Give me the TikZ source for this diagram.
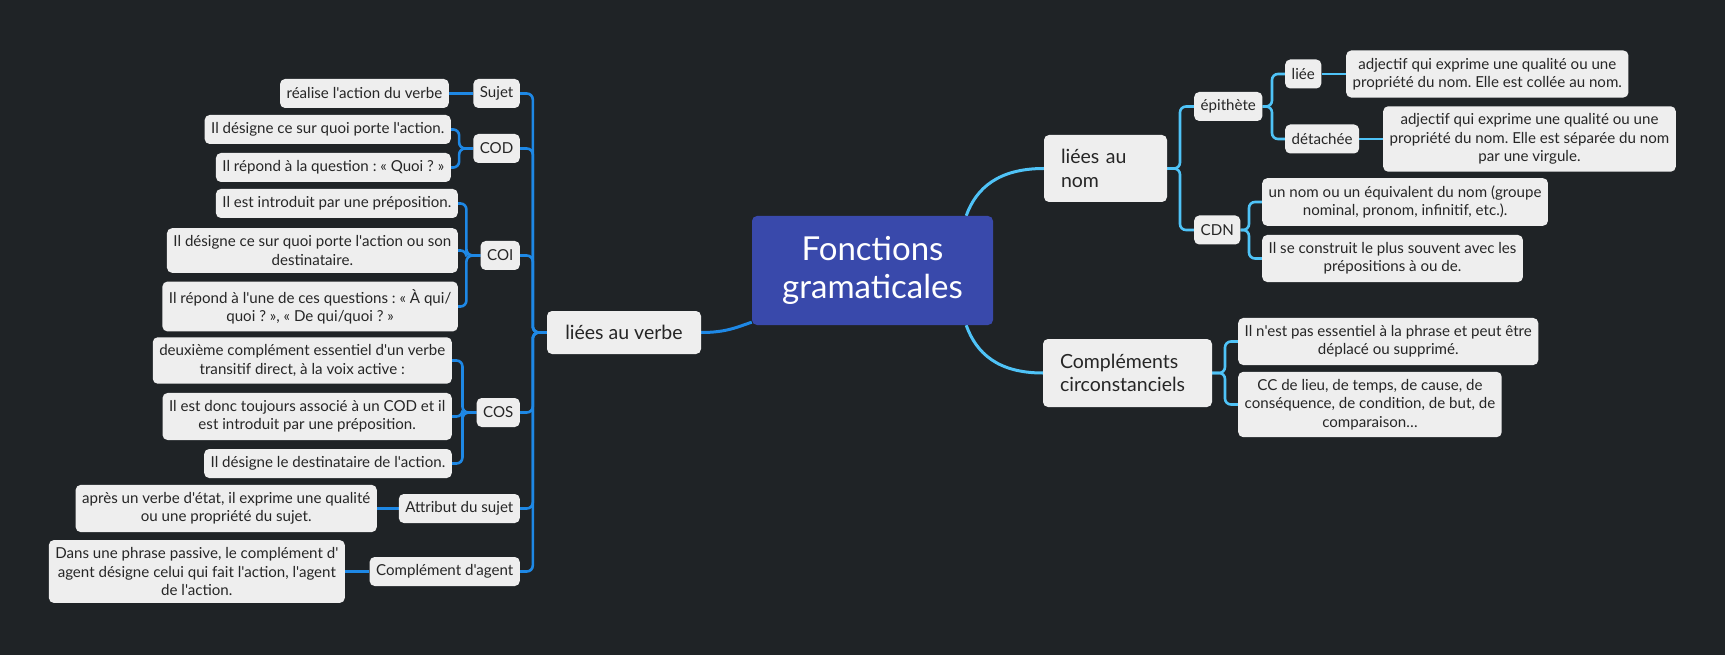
\documentclass[tikz,border=0pt]{standalone}
\usepackage{fontspec}
\setmainfont{Lato}[Ligatures=TeXOff]
\usetikzlibrary{positioning,calc}
\definecolor{bgdark}{HTML}{1F2326}
\definecolor{rootblue}{HTML}{3949AB}
\definecolor{lblue}{HTML}{1E88E5}
\definecolor{rcyan}{HTML}{4FC3F7}
\definecolor{boxgrey}{HTML}{EEEEEE}
\definecolor{inkdark}{HTML}{262626}
\pgfdeclarelayer{bg}
\pgfdeclarelayer{edges}
\pgfsetlayers{bg,edges,main}
\frenchspacing

\tikzset{
  box/.style={fill=boxgrey, text=inkdark, rounded corners=5, inner xsep=6.5, inner ysep=7.5,
    align=center, font=\fontsize{15.1}{18.3}\selectfont, minimum height=29},
  leaf/.style={box},
  sub/.style={box},
  topic/.style={box, font=\fontsize{19.5}{23.5}\selectfont, inner xsep=17},
  root/.style={fill=rootblue, text=white, rounded corners=5, align=center,
    font=\fontsize{33}{38}\selectfont, minimum width=241, minimum height=109},
  lline/.style={draw=lblue, line width=2.6, rounded corners=6},
  rline/.style={draw=rcyan, line width=2.6, rounded corners=6},
}

\begin{document}
\begin{tikzpicture}[x=1pt,y=-1pt]
\begin{pgfonlayer}{bg}
\fill[bgdark] (0,0) rectangle (1725,655);
\end{pgfonlayer}
\useasboundingbox (0,0) rectangle (1725,655);

% root
\node[root] (root) at (872.5,270.5) {Fonctions\\gramaticales};

% liées au verbe
\node[topic, minimum width=154, minimum height=43] (verbe) at (624,332.5) {liées au verbe};

\node[sub, anchor=east] (sujet) at (520,93.5) {Sujet};
\node[sub, anchor=east] (cod) at (520,148.5) {COD};
\node[sub, anchor=east] (coi) at (520,255.5) {COI};
\node[sub, anchor=east] (cos) at (520,412.5) {COS};
\node[sub, anchor=east] (attr) at (520,508.5) {Attribut du sujet};
\node[sub, anchor=east] (agent) at (520,571.5) {Complément d'agent};

\node[leaf, anchor=east] (sujetA) at (449,93.5) {réalise l'action du verbe};
\node[leaf, anchor=east] (codA) at (451,129.5) {Il désigne ce sur quoi porte l'action.};
\node[leaf, anchor=east] (codB) at (451,167.5) {Il répond à la question : « Quoi ? »};
\node[leaf, anchor=east] (coiA) at (458,203.5) {Il est introduit par une préposition.};
\node[leaf, anchor=east] (coiB) at (458,250.5) {Il désigne ce sur quoi porte l'action ou son\\destinataire.};
\node[leaf, anchor=east] (coiC) at (458,306.5) {Il répond à l'une de ces questions : « À qui/\\quoi ? », « De qui/quoi ? »};
\node[leaf, anchor=east] (cosA) at (452,360.5) {deuxième complément essentiel d'un verbe\\transitif direct, à la voix active :};
\node[leaf, anchor=east] (cosB) at (452,416.5) {Il est donc toujours associé à un COD et il\\est introduit par une préposition.};
\node[leaf, anchor=east] (cosC) at (452,463.5) {Il désigne le destinataire de l'action.};
\node[leaf, anchor=east] (attrA) at (377,508.5) {après un verbe d'état, il exprime une qualité\\ou une propriété du sujet.};
\node[leaf, anchor=east] (agentA) at (345,571.5) {Dans une phrase passive, le complément d'\\agent désigne celui qui fait l'action, l'agent\\de l'action.};

% liées au nom
\node[topic, align=left, text width=89, minimum height=67] (nom) at (1105.5,168.5) {liées au\\nom};

\node[sub, anchor=west] (epi) at (1194,106.5) {épithète};
\node[sub, anchor=west] (cdn) at (1194,230) {CDN};
\node[sub, anchor=west] (liee) at (1285,74) {liée};
\node[sub, anchor=west] (deta) at (1285,139) {détachée};

\node[leaf, anchor=west] (lieeA) at (1346,74) {adjectif qui exprime une qualité ou une\\propriété du nom. Elle est collée au nom.};
\node[leaf, anchor=west] (detaA) at (1383,139) {adjectif qui exprime une qualité ou une\\propriété du nom. Elle est séparée du nom\\par une virgule.};
\node[leaf, anchor=west] (cdnA) at (1262,202) {un nom ou un équivalent du nom (groupe\\nominal, pronom, infinitif, etc.).};
\node[leaf, anchor=west] (cdnB) at (1262,258.5) {Il se construit le plus souvent avec les\\prépositions à ou de.};

% compléments circonstanciels
\node[topic, align=left, text width=135, minimum height=68] (cc) at (1127.5,373) {Compléments\\circonstanciels};

\node[leaf, anchor=west] (ccA) at (1238,341.5) {Il n'est pas essentiel à la phrase et peut être\\déplacé ou supprimé.};
\node[leaf, anchor=west] (ccB) at (1238,404.5) {CC de lieu, de temps, de cause, de\\conséquence, de condition, de but, de\\comparaison…};

\begin{pgfonlayer}{edges}
% root to topics
\draw[lline, line width=3] (verbe.east) .. controls +(25,0) and +(-15,5) .. ([yshift=3]root.south west);
\draw[rline, line width=3] ([xshift=-27]root.north east) .. controls +(10,-28) and +(-45,0) .. (nom.west);
\draw[rline, line width=3] ([xshift=-27]root.south east) .. controls +(10,28) and +(-45,0) .. (cc.west);

% left branches
\foreach \c in {sujet,cod,coi,cos,attr,agent}
  \draw[lline] (\c.east) -| ([xshift=-14]verbe.west) -- (verbe.west);
\foreach \c in {codA,codB}
  \draw[lline] (\c.east) -| ([xshift=-14]cod.west) -- (cod.west);
\foreach \c in {coiA,coiB,coiC}
  \draw[lline] (\c.east) -| ([xshift=-14]coi.west) -- (coi.west);
\foreach \c in {cosA,cosB,cosC}
  \draw[lline] (\c.east) -| ([xshift=-14]cos.west) -- (cos.west);
\draw[lline] (sujetA.east) -- (sujet.west);
\draw[lline] (attrA.east) -- (attr.west);
\draw[lline] (agentA.east) -- (agent.west);

% right branches
\foreach \c in {epi,cdn}
  \draw[rline] (nom.east) -| ([xshift=-14]\c.west) -- (\c.west);
\foreach \c in {liee,deta}
  \draw[rline] (epi.east) -| ([xshift=-13]\c.west) -- (\c.west);
\foreach \c in {cdnA,cdnB}
  \draw[rline] (cdn.east) -| ([xshift=-13]\c.west) -- (\c.west);
\foreach \c in {ccA,ccB}
  \draw[rline] (cc.east) -| ([xshift=-13]\c.west) -- (\c.west);
\draw[rline] (liee.east) -- (lieeA.west);
\draw[rline] (deta.east) -- (detaA.west);
\end{pgfonlayer}
\end{tikzpicture}
\end{document}
